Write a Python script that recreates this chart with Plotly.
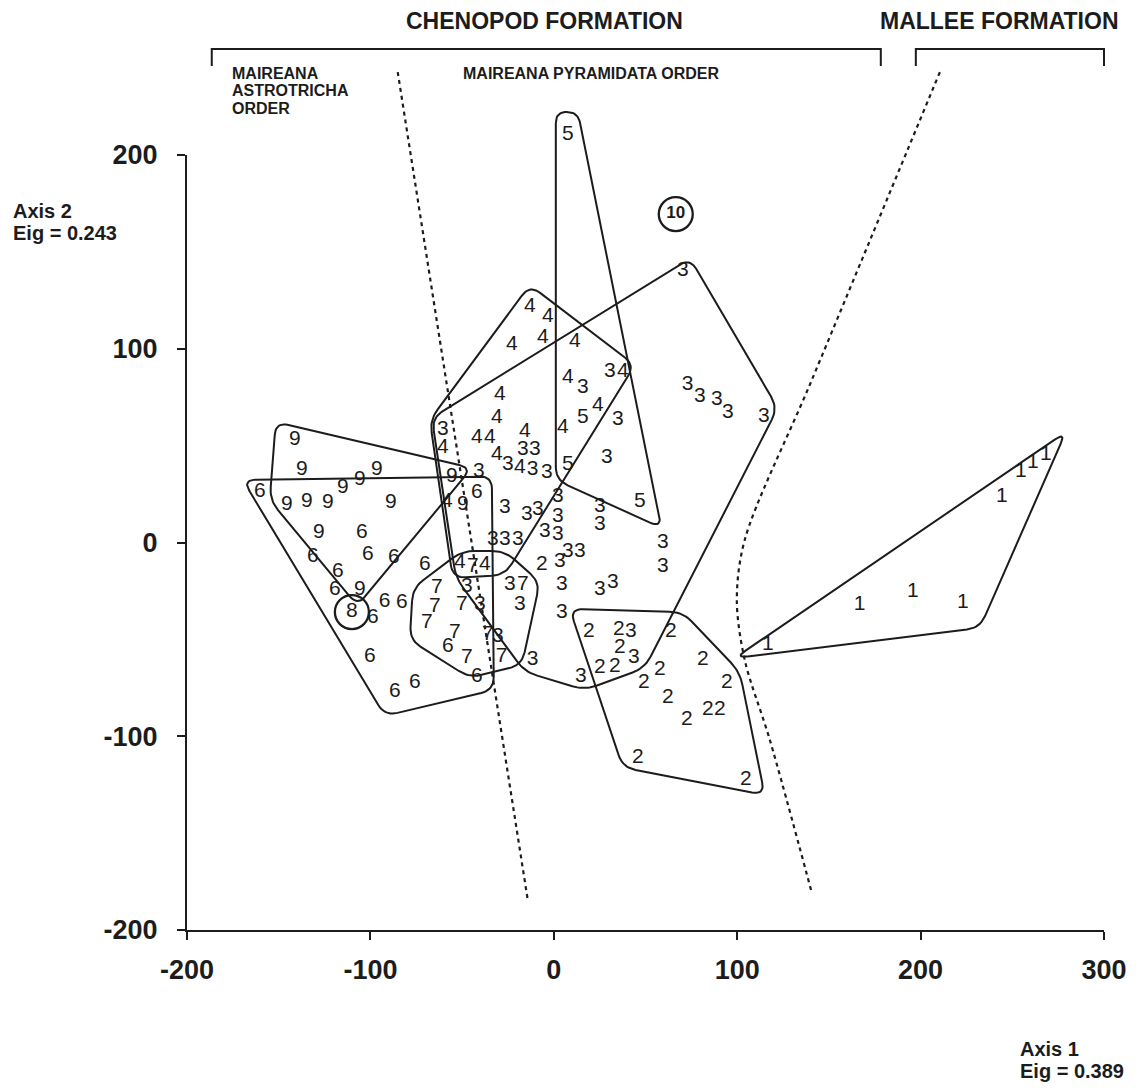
import math
import plotly.graph_objects as go

# ---------------------------------------------------------------------------
# Ordination scores (axis 1, axis 2) of the sites, one pair of lists per group
# ---------------------------------------------------------------------------
g1_x = [116.7, 166.8, 195.8, 223.0, 244.3, 254.6, 261.2, 268.3]
g1_y = [-52.9, -32.3, -25.5, -31.2, 23.5, 36.4, 41.0, 45.2]

g2_x = [19.1, 35.4, 36.0, 25.1, 33.3, 63.8, 57.8, 49.1, 81.2, 94.3, 62.2,
        84.0, 90.5, 72.5, 45.8, 104.7, -6.5]
g2_y = [-46.2, -45.2, -54.5, -64.8, -64.3, -46.2, -65.8, -72.5, -60.6, -72.5,
        -80.3, -86.5, -86.5, -91.6, -111.2, -122.6, -11.6]

g3_x = [73.0, 79.6, 88.9, 94.9, 114.5, 70.3, 28.9, 34.9, 15.8, 30.5, -3.8,
        -16.9, -10.4, -25.0, -11.5, -60.5, -40.9, -26.7, -14.7, -8.7, 2.2, 2.2,
        25.1, 25.1, -33.3, -26.7, -19.6, -4.9, 2.2, 7.6, 14.2, 3.3, 4.4, 4.4,
        25.1, 32.2, 59.4, 59.4, 42.0, 43.6, 14.7, -24.0, -18.5, -47.4, -40.3,
        -30.5, -11.5]
g3_y = [81.3, 75.1, 73.5, 66.8, 64.8, 140.1, 43.6, 63.2, 79.7, 88.0, 35.9,
        47.7, 47.7, 40.0, 37.4, 58.1, 36.4, 17.8, 14.2, 16.8, 23.5, 13.2,
        18.3, 9.0, 1.3, 1.3, 1.3, 5.4, 3.9, -4.9, -4.9, -10.0, -21.9, -36.4,
        -24.5, -20.9, -0.3, -12.6, -46.2, -59.6, -69.4, -21.9, -32.3, -23.0,
        -32.3, -48.8, -60.6]

g4_x = [-13.0, -3.3, -22.9, -6.0, 11.5, -29.4, -31.1, -42.0, -34.9, -15.8,
        -31.1, -18.5, -60.5, -58.3, 7.6, 37.6, 24.0, 4.9, -51.3, -37.6]
g4_y = [121.5, 116.4, 101.9, 105.5, 103.5, 76.1, 64.3, 53.9, 53.9, 57.0,
        45.2, 38.4, 48.8, 20.9, 84.9, 88.0, 70.5, 59.0, -10.6, -11.6]

g5_x = [7.6, 15.8, 7.6, 46.9]
g5_y = [210.3, 64.3, 40.0, 20.9]

g6_x = [-160.3, -104.7, -131.4, -101.4, -87.2, -117.8, -119.4, -98.7, -92.2,
        -82.9, -70.3, -100.3, -86.7, -75.8, -42.0, -57.8, -42.0]
g6_y = [26.1, 4.9, -7.5, -6.5, -8.0, -15.2, -24.5, -39.0, -30.7, -31.2,
        -11.6, -59.0, -77.2, -72.5, 25.5, -53.9, -69.4]

g7_x = [-63.8, -64.9, -69.2, -50.2, -54.0, -47.4, -16.9, -28.4, -36.0, -44.2]
g7_y = [-23.5, -33.3, -41.5, -32.3, -46.7, -59.6, -21.9, -59.0, -47.7, -12.6]

g9_x = [-141.2, -137.4, -115.0, -105.8, -96.5, -145.6, -134.7, -123.2, -88.9,
        -128.1, -105.8, -55.6, -49.6]
g9_y = [52.9, 37.4, 28.1, 32.3, 37.4, 19.4, 20.9, 20.4, 20.4, 4.9, -24.5,
        33.8, 19.4]

# single-site groups, drawn ringed
g8_x = [-110.1]
g8_y = [-35.9]
g10_x = [66.5]
g10_y = [169.5]

# ---------------------------------------------------------------------------
# Group envelopes (corner points, axis units)
# ---------------------------------------------------------------------------
hull1_x = [98.7, 279.2, 232.3]
hull1_y = [-59.6, 57.0, -44.1]
hull2_x = [8.7, 70.3, 101.4, 115.0, 37.6]
hull2_y = [-34.3, -35.9, -66.8, -130.3, -116.1]
hull3_x = [-66.5, 74.2, 122.1, 49.6, 16.9, -15.8, -53.4]
hull3_y = [64.3, 146.8, 69.4, -64.8, -76.1, -66.8, -18.3]
hull4_x = [-67.6, -13.1, 44.2, -26.7, -55.1]
hull4_y = [63.2, 132.9, 91.6, -16.8, -18.3]
hull5_x = [1.1, 13.1, 58.9, 1.1]
hull5_y = [222.2, 222.2, 7.5, 32.3]
hull6_x = [-169.6, -33.8, -32.7, -92.1]
hull6_y = [32.3, 34.3, -76.1, -89.5]
hull7_x = [-76.9, -50.2, -26.7, -7.6, -17.4, -45.8, -78.5]
hull7_y = [-23.5, -4.4, -4.4, -20.4, -63.2, -69.9, -50.3]
hull9_x = [-151.6, -44.7, -106.9, -154.9]
hull9_y = [62.2, 38.5, -32.8, 21.9]

# Formation / order boundaries
left_boundary_x = [-85.1, -14.2]
left_boundary_y = [242.8, -184.5]
right_boundary_x = [210.5, 140.7, 104.1, 99.8, 104.1, 117.8, 140.7]
right_boundary_y = [242.8, 83.9, 1.3, -29.7, -60.6, -101.9, -180.9]

# Formation brackets along the top (axis-1 extent)
chenopod_span = [-186.5, 178.3]
mallee_span = [197.4, 300.0]

# Axis ticks
x_ticks = [-200, -100, 0, 100, 200, 300]
x_tick_labels = ["-200", "-100", "0", "100", "200", "300"]
y_ticks = [-200, -100, 0, 100, 200]
y_tick_labels = ["-200", "-100", "0", "100", "200"]

# ---------------------------------------------------------------------------
# Page geometry
# ---------------------------------------------------------------------------
W, H = 1148, 1089
BOX_L, BOX_R, BOX_T, BOX_B = 187, 1104, 155, 930
X0, X1, Y0, Y1 = -200, 300, -200, 200
PX_X = (BOX_R - BOX_L) / (X1 - X0)
PX_Y = (BOX_B - BOX_T) / (Y1 - Y0)
FULL_X = [X0 - BOX_L / PX_X, X1 + (W - BOX_R) / PX_X]
FULL_Y = [Y0 - (H - BOX_B) / PX_Y, Y1 + BOX_T / PX_Y]

FONT = "Liberation Sans, Arial, Helvetica, sans-serif"
INK = "#1c1c1c"


def rounded_outline(xs, ys, radius_px=13, steps=10):
    """Closed outline through the corner points with rounded corners."""
    px = [x * PX_X for x in xs]
    py = [y * PX_Y for y in ys]
    n = len(px)
    ox, oy = [], []
    for i in range(n):
        vx, vy = px[i], py[i]
        ax_, ay_ = px[i - 1], py[i - 1]
        bx_, by_ = px[(i + 1) % n], py[(i + 1) % n]
        la = math.hypot(ax_ - vx, ay_ - vy)
        lb = math.hypot(bx_ - vx, by_ - vy)
        d = min(radius_px, la / 2, lb / 2)
        p0 = (vx + (ax_ - vx) * d / la, vy + (ay_ - vy) * d / la)
        p2 = (vx + (bx_ - vx) * d / lb, vy + (by_ - vy) * d / lb)
        for k in range(steps + 1):
            t = k / steps
            cx = (1 - t) ** 2 * p0[0] + 2 * (1 - t) * t * vx + t * t * p2[0]
            cy = (1 - t) ** 2 * p0[1] + 2 * (1 - t) * t * vy + t * t * p2[1]
            ox.append(cx / PX_X)
            oy.append(cy / PX_Y)
    ox.append(ox[0])
    oy.append(oy[0])
    return ox, oy


fig = go.Figure()

# rings round the single-site groups (on the framed axes)
fig.add_trace(go.Scatter(
    x=g8_x + g10_x, y=g8_y + g10_y, mode="markers",
    marker=dict(symbol="circle-open", size=34, color=INK,
                line=dict(width=2.3, color=INK)),
    cliponaxis=False, hoverinfo="skip", showlegend=False, xaxis="x", yaxis="y"))

# group envelopes on the full-page overlay axes (same units as the frame)
for hx, hy in [(hull1_x, hull1_y), (hull2_x, hull2_y), (hull3_x, hull3_y),
               (hull4_x, hull4_y), (hull5_x, hull5_y), (hull6_x, hull6_y),
               (hull7_x, hull7_y), (hull9_x, hull9_y)]:
    ox, oy = rounded_outline(hx, hy)
    fig.add_trace(go.Scatter(
        x=ox, y=oy, mode="lines", line=dict(color=INK, width=2),
        hoverinfo="skip", showlegend=False, xaxis="x2", yaxis="y2"))

# formation / order boundaries
fig.add_trace(go.Scatter(
    x=left_boundary_x, y=left_boundary_y, mode="lines",
    line=dict(color=INK, width=2.2, dash="4px,4px"),
    hoverinfo="skip", showlegend=False, xaxis="x2", yaxis="y2"))
fig.add_trace(go.Scatter(
    x=right_boundary_x, y=right_boundary_y, mode="lines",
    line=dict(color=INK, width=2.2, dash="4px,4px", shape="spline", smoothing=0.9),
    hoverinfo="skip", showlegend=False, xaxis="x2", yaxis="y2"))

# brackets for the two formations
for span in (chenopod_span, mallee_span):
    fig.add_trace(go.Scatter(
        x=[span[0], span[0], span[1], span[1]], y=[246.0, 254.7, 254.7, 246.0],
        mode="lines", line=dict(color=INK, width=2),
        hoverinfo="skip", showlegend=False, xaxis="x2", yaxis="y2"))

# site labels (group numbers); the overlay axes cover the whole page so
# labels above the top tick are not culled
groups = [("1", g1_x, g1_y), ("2", g2_x, g2_y), ("3", g3_x, g3_y),
          ("4", g4_x, g4_y), ("5", g5_x, g5_y), ("6", g6_x, g6_y),
          ("7", g7_x, g7_y), ("9", g9_x, g9_y), ("8", g8_x, g8_y)]
for label, gx, gy in groups:
    fig.add_trace(go.Scatter(
        x=gx, y=gy, mode="text", text=[label] * len(gx),
        textposition="middle center",
        textfont=dict(family=FONT, size=21, color=INK),
        hoverinfo="skip", showlegend=False, xaxis="x2", yaxis="y2"))
fig.add_trace(go.Scatter(
    x=g10_x, y=g10_y, mode="text", text=["10"] * len(g10_x),
    textposition="middle center",
    textfont=dict(family=FONT, size=17, color=INK, weight="bold"),
    hoverinfo="skip", showlegend=False, xaxis="x2", yaxis="y2"))


def paper(px_x, px_y):
    return px_x / W, 1 - px_y / H


annotations = []


def add_text(text, px_x, px_y, size, xanchor="left"):
    ax_, ay_ = paper(px_x, px_y)
    annotations.append(dict(
        text="<b>%s</b>" % text, x=ax_, y=ay_, xref="paper", yref="paper",
        xanchor=xanchor, yanchor="middle", showarrow=False,
        font=dict(family=FONT, size=size, color=INK)))


add_text("CHENOPOD FORMATION", 544, 21, 23, "center")
add_text("MALLEE FORMATION", 1000, 21, 23, "center")
add_text("MAIREANA", 230, 74, 16)
add_text("ASTROTRICHA", 230, 91, 16)
add_text("ORDER", 230, 108, 16)
add_text("MAIREANA PYRAMIDATA ORDER", 461, 74, 16)
add_text("Axis 2", 11, 211, 20)
add_text("Eig = 0.243", 11, 233, 20)
add_text("Axis 1", 1018, 1049, 20)
add_text("Eig = 0.389", 1018, 1071, 20)

axis_font = dict(family=FONT, size=27, color=INK, weight="bold")

fig.update_layout(
    width=W, height=H, autosize=False,
    margin=dict(l=0, r=0, t=0, b=0, pad=0, autoexpand=False),
    paper_bgcolor="white", plot_bgcolor="rgba(0,0,0,0)",
    showlegend=False,
    annotations=annotations,
    xaxis=dict(domain=[BOX_L / W, BOX_R / W], range=[X0, X1], anchor="y",
               automargin=False,
               showline=True, linecolor=INK, linewidth=2, mirror=False,
               ticks="outside", ticklen=8, tickwidth=2, tickcolor=INK,
               ticklabelstandoff=7,
               tickvals=x_ticks, ticktext=x_tick_labels, tickfont=axis_font,
               showgrid=False, zeroline=False, fixedrange=True),
    yaxis=dict(domain=[1 - BOX_B / H, 1 - BOX_T / H], range=[Y0, Y1], anchor="x",
               automargin=False,
               showline=True, linecolor=INK, linewidth=2, mirror=False,
               ticks="outside", ticklen=8, tickwidth=2, tickcolor=INK,
               ticklabelstandoff=14,
               tickvals=y_ticks, ticktext=y_tick_labels, tickfont=axis_font,
               showgrid=False, zeroline=False, fixedrange=True),
    xaxis2=dict(domain=[0, 1], range=FULL_X, anchor="y2", visible=False,
                automargin=False, fixedrange=True),
    yaxis2=dict(domain=[0, 1], range=FULL_Y, anchor="x2", visible=False,
                automargin=False, fixedrange=True),
)

fig.write_html("out.html")
